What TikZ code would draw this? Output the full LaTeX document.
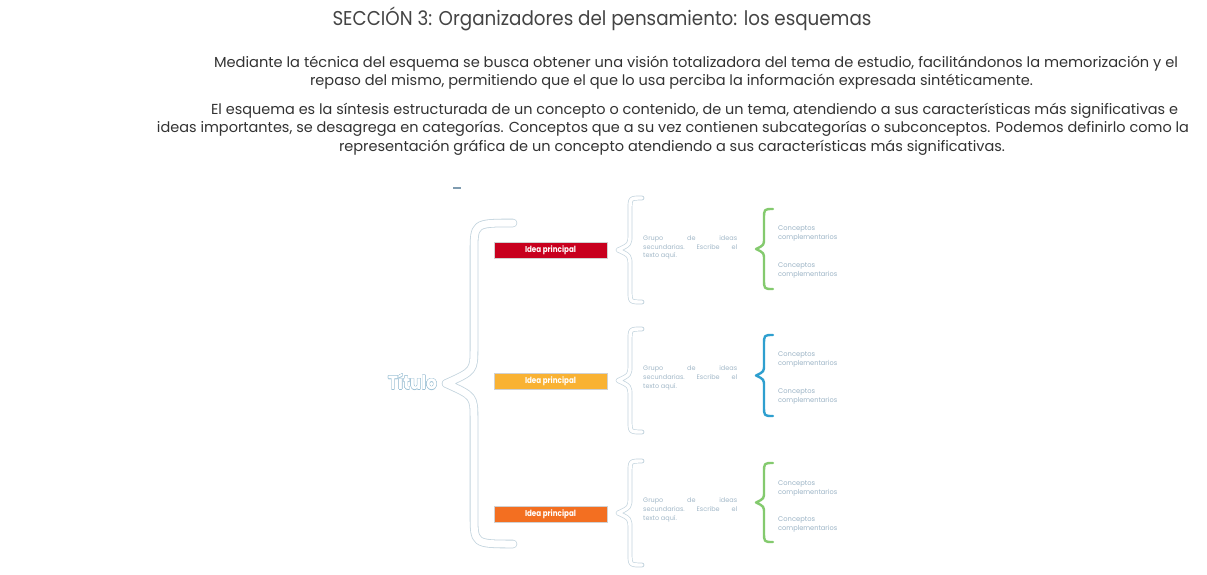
\documentclass[tikz,border=0pt]{standalone}
\usepackage{fontspec}
\setmainfont{Poppins}
\usepackage{graphicx}
\usepackage{contour}
\contourlength{0.4pt}
\definecolor{bodycol}{HTML}{333333}
\definecolor{headcol}{HTML}{444444}
\definecolor{bracecol}{HTML}{C3D4DE}
\definecolor{titcol}{HTML}{9EC2D6}
\definecolor{grouptxt}{HTML}{A2B8C8}
\definecolor{conctxt}{HTML}{9CB4C6}
\definecolor{ideared}{HTML}{C8001E}
\definecolor{ideayel}{HTML}{F9B233}
\definecolor{ideaora}{HTML}{F36F21}
\definecolor{bgreen}{HTML}{84CA6E}
\definecolor{bblue}{HTML}{2E9FCF}
\definecolor{dashcol}{HTML}{7F9CB0}
\newcommand\fitw[2]{\sbox0{#2}\scalebox{\fpeval{#1/\wd0}}[1]{\usebox0}}
\tikzset{
  bracep/.style n args={7}{insert path={(#1,#4) .. controls (#2,#4) .. (#2,{#4+#6})
     -- (#2,{(#4+#5)/2-#7}) .. controls (#2,{(#4+#5)/2-0.35*#7}) .. (#3,{(#4+#5)/2})
     .. controls (#2,{(#4+#5)/2+0.35*#7}) .. (#2,{(#4+#5)/2+#7})
     -- (#2,{#5-#6}) .. controls (#2,#5) .. (#1,#5)}},
  bigbrace/.style={draw=bracecol, line width=0.8pt, double=white, double distance=7pt, line cap=round, line join=round},
  graybrace/.style={draw=bracecol, line width=0.7pt, double=white, double distance=3.4pt, line cap=round, line join=round},
  colbrace/.style={draw=#1, line width=2.4pt, line cap=round, line join=round},
  bodytext/.style={font=\fontsize{14.5}{17}\selectfont, text=bodycol, inner sep=0pt, anchor=base},
  ideabox/.style={fill=#1, draw=black!18, line width=0.4pt, minimum width=113pt, minimum height=16pt, inner sep=0pt, text=white, font=\bfseries\fontsize{8.5}{9}\selectfont},
  grouptext/.style={font=\fontsize{6.5}{8}\selectfont, text=grouptxt, inner sep=0pt, anchor=base west},
  conctext/.style={font=\fontsize{6.8}{8}\selectfont, text=conctxt, inner sep=0pt, anchor=base west},
}
\begin{document}
\begin{tikzpicture}[x=1pt,y=-1pt]
\useasboundingbox[fill=white] (0,0) rectangle (1207,574);
% heading and paragraphs
\node[bodytext, text=headcol, font=\fontsize{20}{24}\selectfont] (head) at (602,25) {\fitw{539pt}{SECCIÓN 3: Organizadores del pensamiento: los esquemas}};
\node[bodytext] (p1a) at (696,67) {\fitw{964pt}{Mediante la técnica del esquema se busca obtener una visión totalizadora del tema de estudio, facilitándonos la memorización y el}};
\node[bodytext] (p1b) at (671.5,85.5) {\fitw{723pt}{repaso del mismo, permitiendo que el que lo usa perciba la información expresada sintéticamente.}};
\node[bodytext] (p2a) at (694.5,114) {\fitw{967pt}{El esquema es la síntesis estructurada de un concepto o contenido, de un tema, atendiendo a sus características más significativas e}};
\node[bodytext] (p2b) at (673,132.5) {\fitw{1032pt}{ideas importantes, se desagrega en categorías. Conceptos que a su vez contienen subcategorías o subconceptos. Podemos definirlo como la}};
\node[bodytext] (p2c) at (672,151) {\fitw{666pt}{representación gráfica de un concepto atendiendo a sus características más significativas.}};
% small dash
\coordinate (d1) at (453,188);
\coordinate (d2) at (461,188);
\draw[dashcol, line width=1.1pt] (d1) -- (d2);
% title and big brace
\node[inner sep=0pt, font=\bfseries\fontsize{19}{22}\selectfont] (tit) at (412.5,382) {\fitw{49pt}{\color{white}\contour{titcol}{Título}}};
\draw[bigbrace, bracep={513}{474}{446}{223}{544}{30}{36}];
% main ideas
\node[ideabox=ideared] (i1) at (550.5,250) {\fitw{51pt}{Idea principal}};
\node[ideabox=ideayel] (i2) at (550.5,381) {\fitw{51pt}{Idea principal}};
\node[ideabox=ideaora] (i3) at (550.5,514) {\fitw{51pt}{Idea principal}};
% gray braces
\draw[graybrace, bracep={642}{630}{618}{198}{302}{12}{16}];
\draw[graybrace, bracep={642}{630}{618}{329}{432}{12}{16}];
\draw[graybrace, bracep={642}{630}{618}{461}{565}{12}{16}];
% group texts
\foreach \r/\ya/\yb/\yc in {1/240/249/257, 2/370/379/388, 3/502/511/520}{
  \node[grouptext] (g\r a) at (643,\ya) {\hbox to 94pt{Grupo\hfill de\hfill ideas}};
  \node[grouptext] (g\r b) at (643,\yb) {\hbox to 94pt{secundarias.\hfill Escribe\hfill el}};
  \node[grouptext] (g\r c) at (643,\yc) {texto aquí.};
}
% coloured braces
\draw[colbrace=bgreen, bracep={773}{764}{756}{209}{289}{10}{11}];
\draw[colbrace=bblue, bracep={773}{764}{756}{335}{416}{10}{11}];
\draw[colbrace=bgreen, bracep={773}{764}{756}{463}{542}{10}{11}];
% concepts
\foreach \r/\ya/\yb/\yc/\yd in {1/230/239/267/276, 2/356/365/393/402, 3/485/494/521/530}{
  \node[conctext] (c\r a) at (778,\ya) {\fitw{37pt}{Conceptos}};
  \node[conctext] (c\r b) at (778,\yb) {\fitw{59pt}{complementarios}};
  \node[conctext] (c\r c) at (778,\yc) {\fitw{37pt}{Conceptos}};
  \node[conctext] (c\r d) at (778,\yd) {\fitw{59pt}{complementarios}};
}
\end{tikzpicture}
\end{document}
